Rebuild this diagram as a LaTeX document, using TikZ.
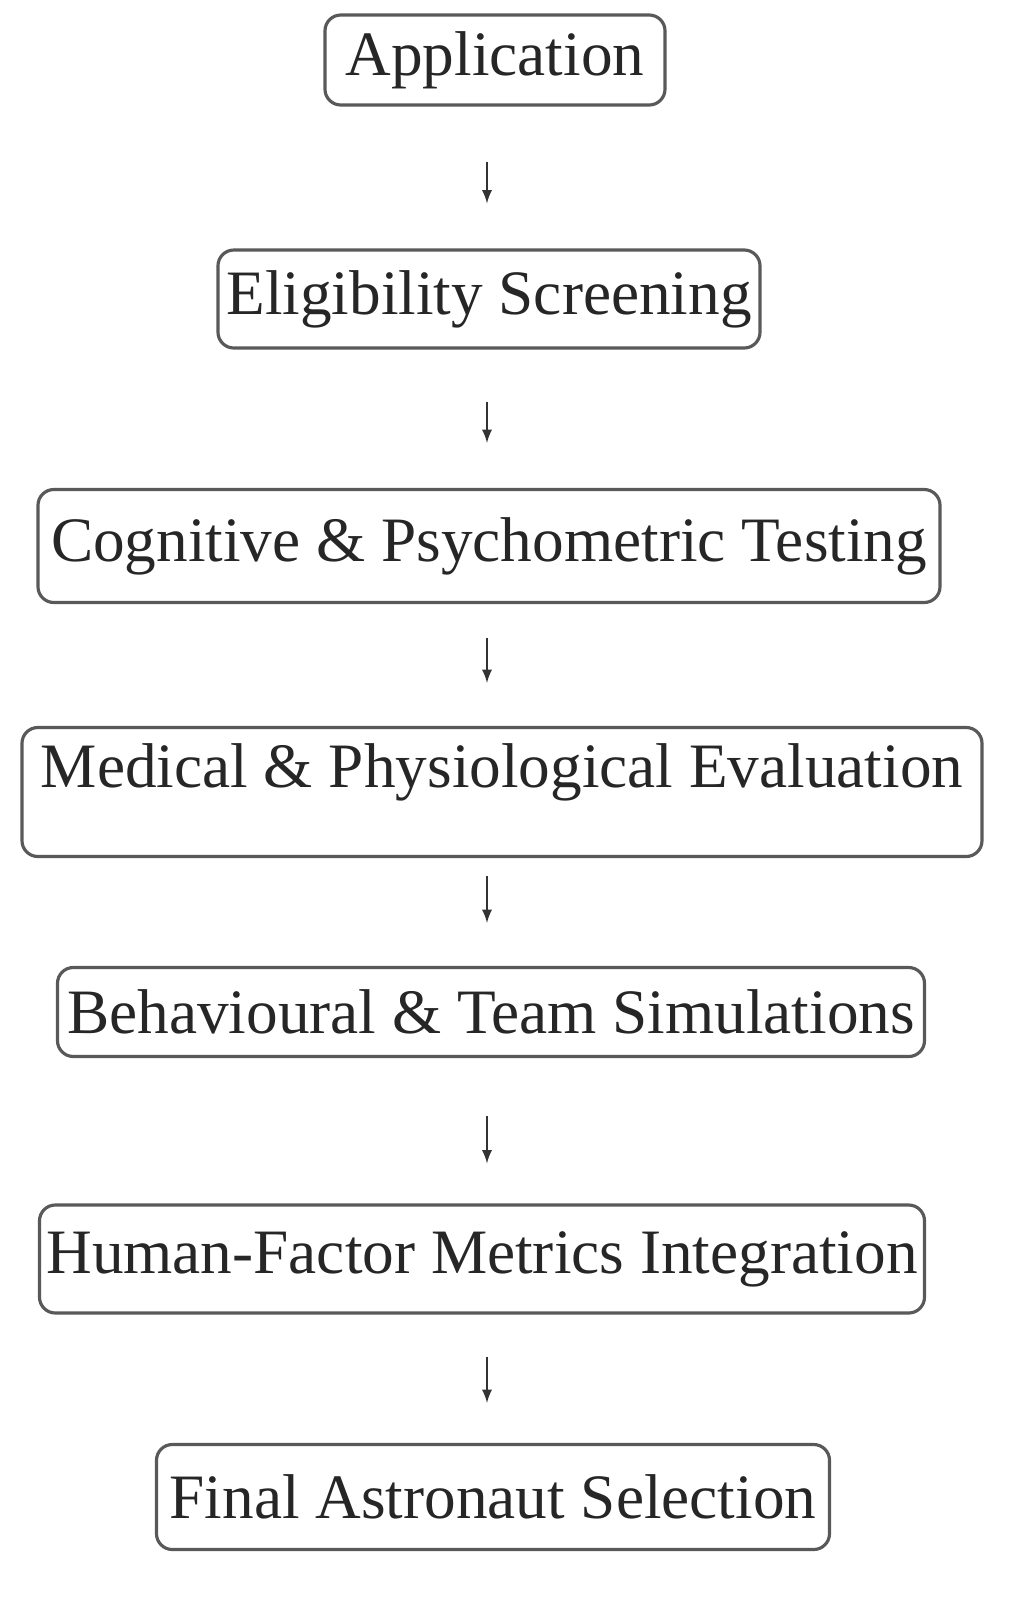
\documentclass[tikz,border=0pt]{standalone}
\usepackage{fontspec}
\setmainfont{Liberation Serif}
\begin{document}
\begin{tikzpicture}[x=0.02cm,y=-0.02cm,
  box/.style={draw=black!65,line width=1.8pt,rounded corners=9pt,inner sep=0pt,
    font=\fontsize{36}{40}\selectfont,text=black!85},
  arr/.style={-latex,line width=1.6pt,draw=black!80}]
\useasboundingbox (0,0) rectangle (1025,1600);
\node[box,minimum width=340*0.02cm,minimum height=90*0.02cm] (a) at (495,60) {Application};
\node[box,minimum width=542*0.02cm,minimum height=98*0.02cm] (b) at (489,299) {Eligibility Screening};
\node[box,minimum width=902*0.02cm,minimum height=113*0.02cm] (c) at (489,546) {Cognitive \& Psychometric Testing};
\node[box,minimum width=960*0.02cm,minimum height=129*0.02cm,text depth=30pt] (d) at (502,792) {Medical \& Physiological Evaluation};
\node[box,minimum width=867*0.02cm,minimum height=89*0.02cm] (e) at (491,1012) {Behavioural \& Team Simulations};
\node[box,minimum width=885*0.02cm,minimum height=108*0.02cm] (f) at (482,1259) {Human-Factor Metrics Integration};
\node[box,minimum width=673*0.02cm,minimum height=105*0.02cm] (g) at (493,1497) {Final Astronaut Selection};
\draw[arr,shorten <=55*0.02cm,shorten >=45*0.02cm] (a.south -| 487,0) -- (b.north -| 487,0);
\draw[arr,shorten <=52*0.02cm,shorten >=45*0.02cm] (b.south -| 487,0) -- (c.north -| 487,0);
\draw[arr,shorten <=34*0.02cm,shorten >=43*0.02cm] (c.south -| 487,0) -- (d.north -| 487,0);
\draw[arr,shorten <=18*0.02cm,shorten >=43*0.02cm] (d.south -| 487,0) -- (e.north -| 487,0);
\draw[arr,shorten <=58*0.02cm,shorten >=40*0.02cm] (e.south -| 487,0) -- (f.north -| 487,0);
\draw[arr,shorten <=42*0.02cm,shorten >=40*0.02cm] (f.south -| 487,0) -- (g.north -| 487,0);
\end{tikzpicture}
\end{document}
